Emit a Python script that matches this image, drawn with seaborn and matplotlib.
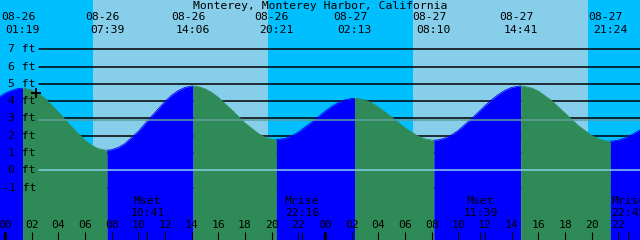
import numpy as np
import pandas as pd
import matplotlib
matplotlib.use("Agg")
import matplotlib.pyplot as plt
import seaborn as sns

# ---------------- data ----------------
title = "Monterey, Monterey Harbor, California"

# tide level (hours from 08-26 00:00, feet)
hours = [-1, 0, 0.5, 1, 1.317, 1.5, 2, 2.5, 3, 4, 5, 6, 6.5, 7, 7.5, 7.65, 8, 8.5, 9,
         10, 11, 12, 12.5, 13, 13.5, 14, 14.1, 14.5, 15, 15.5, 16, 17, 18, 19, 19.5,
         20, 20.35, 21, 21.5, 22, 23, 24, 24.5, 25, 25.5, 26, 26.217, 26.5, 27, 27.5,
         28, 29, 30, 31, 31.5, 32, 32.167, 32.5, 33, 33.5, 34, 35, 36, 36.5, 37, 37.5,
         38, 38.5, 38.683, 39, 39.5, 40, 41, 42, 43, 44, 44.5, 45, 45.4, 46, 46.5, 47, 48]
level_ft = [3.95, 4.45, 4.62, 4.73, 4.74, 4.73, 4.64, 4.44, 4.15, 3.37, 2.50, 1.73,
            1.44, 1.25, 1.165, 1.16, 1.19, 1.32, 1.55, 2.25, 3.13, 3.98, 4.34, 4.61,
            4.79, 4.87, 4.87, 4.84, 4.71, 4.50, 4.21, 3.49, 2.73, 2.12, 1.91, 1.79,
            1.77, 1.84, 1.99, 2.21, 2.78, 3.41, 3.69, 3.92, 4.07, 4.15, 4.16, 4.15,
            4.06, 3.89, 3.66, 3.07, 2.45, 1.96, 1.815, 1.745, 1.74, 1.76, 1.86, 2.05,
            2.31, 2.99, 3.73, 4.08, 4.38, 4.625, 4.79, 4.86, 4.87, 4.85, 4.75, 4.58,
            4.02, 3.30, 2.58, 2.01, 1.82, 1.71, 1.68, 1.74, 1.87, 2.05, 2.50]

event_hours = [1.317, 7.65, 14.1, 20.35, 26.217, 32.167, 38.683, 45.4]
event_dates = ["08-26", "08-26", "08-26", "08-26", "08-27", "08-27", "08-27", "08-27"]
event_times = ["01:19", "07:39", "14:06", "20:21", "02:13", "08:10", "14:41", "21:24"]

day_spans = [(6.6, 19.73), (30.6, 43.75)]

moon_hours = [10.683, 22.267, 35.65, 46.75]
moon_names = ["Mset", "Mrise", "Mset", "Mrise"]
moon_times = ["10:41", "22:16", "11:39", "22:45"]

depth_ticks = [-1, 0, 1, 2, 3, 4, 5, 6, 7]
depth_labels = ["-1 ft", "0 ft", "1 ft", "2 ft", "3 ft", "4 ft", "5 ft", "6 ft", "7 ft"]
hour_ticks = list(range(0, 48, 2))
hour_labels = ["00", "02", "04", "06", "08", "10", "12", "14", "16", "18", "20", "22"] * 2
midnight_ticks = [0, 24]

msl_ft = 2.89
now_hour, now_ft = 2.325, 4.47

# ---------------- style ----------------
sns.set_theme(style="white")
plt.rcParams["font.family"] = ["DejaVu Sans Mono"]
FS = 8.2
NIGHT_SKY, DAY_SKY = "#00BFFF", "#87CEEB"
RISE, FALL = "#0000FF", "#2E8B57"

fig = plt.figure(figsize=(6.4, 2.4), dpi=100)
fig.patch.set_facecolor(NIGHT_SKY)
ax = fig.add_axes([0, 0, 1, 1])
ax.set_axis_off()
ax.set_xlim(-0.375, 47.625)
ymin, ymax = -4.029, 9.844
ax.set_ylim(ymin, ymax)

# sky
for a, b in day_spans:
    ax.axvspan(a, b, color=DAY_SKY, lw=0, zorder=0)

# depth lines (hidden behind water)
for d in depth_ticks:
    if d != 0:
        ax.axhline(d, xmin=39 / 640, xmax=1, color="black", lw=1.1, zorder=1)

# water, coloured by rising/falling
df = pd.DataFrame({"hour": hours, "ft": level_ft})
bounds = [hours[0]] + event_hours + [hours[-1]]
for a, b in zip(bounds[:-1], bounds[1:]):
    seg = df[(df.hour >= a) & (df.hour <= b)]
    c = RISE if seg.ft.iloc[-1] > seg.ft.iloc[0] else FALL
    ax.fill_between(seg.hour, ymin, seg.ft, color=c, lw=0, zorder=2)
    sns.lineplot(data=seg, x="hour", y="ft", color=c, lw=0.6, ax=ax, zorder=2,
                 legend=False, estimator=None, sort=False)
ax.set_axis_off()

# datum and mean sea level
ax.axhline(0, xmin=39 / 640, xmax=1, color="#87CEEB", lw=1.1, zorder=3)
ax.axhline(msl_ft, xmin=39 / 640, xmax=1, color="#5F9EA0", lw=1.1, zorder=3)

# depth labels
ytr = ax.get_yaxis_transform()
for d, lab in zip(depth_ticks, depth_labels):
    ax.annotate(lab, xy=(0, d), xycoords=ytr, xytext=(36, 0), textcoords="offset pixels",
                ha="right", va="center", fontsize=FS, color="black", zorder=5)

# now mark
ax.plot([now_hour], [now_ft], marker="+", ms=7, mew=1.4, color="black", zorder=5)

# title and high/low labels
fig.text(0.5, 1 - 6 / 240, title, ha="center", va="center", fontsize=FS, color="black")
xtr = ax.get_xaxis_transform()
for h, dt, tm in zip(event_hours, event_dates, event_times):
    px = ax.transData.transform((h, 0))[0]
    dpx = max(px - 4.5, 17.5) - px
    ax.annotate(dt, xy=(h, 1), xycoords=xtr, xytext=(dpx, -17), textcoords="offset pixels",
                ha="center", va="center", fontsize=FS, color="black", zorder=5)
    ax.annotate(tm, xy=(h, 1), xycoords=xtr, xytext=(0, -30), textcoords="offset pixels",
                ha="center", va="center", fontsize=FS, color="black", zorder=5)

# bottom hour ticks and labels
for h, lab in zip(hour_ticks, hour_labels):
    ax.annotate(lab, xy=(h, 0), xycoords=xtr, xytext=(0, 15), textcoords="offset pixels",
                ha="center", va="center", fontsize=FS, color="black", zorder=5)
ax.vlines(hour_ticks, 0, 8 / 240, transform=xtr, color="black", lw=0.8, zorder=5)
ax.vlines(midnight_ticks, 0, 8 / 240, transform=xtr, color="black", lw=2.2, zorder=5)

# moon events
for h, nm, tm in zip(moon_hours, moon_names, moon_times):
    ax.annotate(nm, xy=(h, 0), xycoords=xtr, xytext=(0, 38.5), textcoords="offset pixels",
                ha="center", va="center", fontsize=FS, color="black", zorder=5)
    ax.annotate(tm, xy=(h, 0), xycoords=xtr, xytext=(0, 27), textcoords="offset pixels",
                ha="center", va="center", fontsize=FS, color="black", zorder=5)
ax.vlines(moon_hours, 0, 8 / 240, transform=xtr, color="black", lw=0.8, zorder=5)

fig.savefig("out.png", dpi=100, facecolor=NIGHT_SKY)
